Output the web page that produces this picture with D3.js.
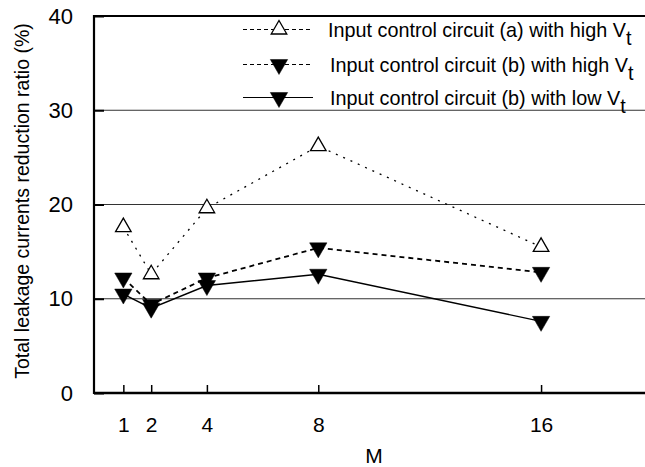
<!DOCTYPE html>
<html>
<head>
<meta charset="utf-8">
<script src="https://cdn.jsdelivr.net/npm/d3@7"></script>
<style>
  html, body { margin: 0; padding: 0; background: #fff; }
  svg { display: block; font-family: "Liberation Sans", Arial, Helvetica, sans-serif; }
</style>
</head>
<body>
<svg id="chart" width="645" height="467"></svg>
<script>
// ---- data ----
const mValues = [1, 2, 4, 8, 16];
const seriesA_high = [17.6, 12.6, 19.6, 26.2, 15.5];   // circuit (a), high Vt
const seriesB_high = [12.2, 9.4, 12.2, 15.4, 12.8];    // circuit (b), high Vt
const seriesB_low  = [10.5, 9.0, 11.4, 12.6, 7.6];     // circuit (b), low Vt
const yTicks = [0, 10, 20, 30, 40];
const xTicks = [1, 2, 4, 8, 16];
const legendLabels = [
  "Input control circuit (a) with high V",
  "Input control circuit (b) with high V",
  "Input control circuit (b) with low V"
];
const xTitle = "M";
const yTitle = "Total leakage currents reduction ratio (%)";

// ---- layout ----
const svg = d3.select("#chart");
const pLeft = 94, pTop = 16, pRight = 645, pBottom = 393;

const x = d3.scaleLinear().domain([0, 19.75]).range([95.5, 645.5]);
const y = d3.scaleLinear().domain([0, 40]).range([pBottom, pTop]);

// gridlines
svg.append("g")
  .selectAll("line")
  .data([10, 20, 30])
  .join("line")
  .attr("x1", pLeft).attr("x2", pRight)
  .attr("y1", d => y(d)).attr("y2", d => y(d))
  .attr("stroke", "#333").attr("stroke-width", 1);

// y axis
const yAxis = svg.append("g")
  .attr("transform", `translate(${pLeft},0)`)
  .call(d3.axisLeft(y).tickValues(yTicks).tickSize(-10).tickPadding(21).tickFormat(d3.format("d")));
yAxis.select(".domain").remove();
yAxis.selectAll(".tick line").attr("stroke", "#000").attr("stroke-width", 2);
yAxis.selectAll(".tick text").attr("font-size", 22).attr("fill", "#000")
  .attr("font-family", "Liberation Sans, Arial, sans-serif");

// x axis
const xAxis = svg.append("g")
  .attr("transform", `translate(0,${pBottom})`)
  .call(d3.axisBottom(x).tickValues(xTicks).tickSize(-8).tickPadding(24).tickFormat(d3.format("d")));
xAxis.select(".domain").remove();
xAxis.selectAll(".tick line").attr("stroke", "#000").attr("stroke-width", 1.5);
xAxis.selectAll(".tick text").attr("font-size", 21).attr("fill", "#000")
  .attr("font-family", "Liberation Sans, Arial, sans-serif");

// frame lines (left, top, bottom)
svg.append("line").attr("x1", pLeft).attr("x2", pLeft).attr("y1", pTop - 1).attr("y2", pBottom + 1)
  .attr("stroke", "#000").attr("stroke-width", 2.2);
svg.append("line").attr("x1", pLeft).attr("x2", pRight).attr("y1", pTop).attr("y2", pTop)
  .attr("stroke", "#000").attr("stroke-width", 2);
svg.append("line").attr("x1", pLeft).attr("x2", pRight).attr("y1", pBottom).attr("y2", pBottom)
  .attr("stroke", "#000").attr("stroke-width", 2.5);

// titles
svg.append("text")
  .attr("x", 374).attr("y", 463)
  .attr("text-anchor", "middle").attr("font-size", 21).text(xTitle);
svg.append("text")
  .attr("transform", "translate(29,201) rotate(-90)")
  .attr("text-anchor", "middle").attr("font-size", 19.5).text(yTitle);

// series
const series = [
  { vals: seriesA_high, dash: "2,6", width: 1.3, open: true },
  { vals: seriesB_high, dash: "5,4", width: 1.8, open: false },
  { vals: seriesB_low,  dash: null,  width: 1.4, open: false }
];

const line = d3.line().x(d => x(d[0])).y(d => y(d[1]));
const upTri = d3.symbol().type(d3.symbolTriangle).size(105);
const downTri = d3.symbol().type(d3.symbolTriangle).size(130);

series.forEach(s => {
  const pts = mValues.map((m, i) => [m, s.vals[i]]);
  svg.append("path").datum(pts)
    .attr("d", line).attr("fill", "none")
    .attr("stroke", "#000").attr("stroke-width", s.width)
    .attr("stroke-dasharray", s.dash);
});
// markers: filled ones first, open on top
[series[2], series[1], series[0]].forEach(s => {
  const pts = mValues.map((m, i) => [m, s.vals[i]]);
  svg.append("g").selectAll("path").data(pts).join("path")
    .attr("d", s.open ? upTri : downTri)
    .attr("transform", d => `translate(${x(d[0])},${y(d[1])})` + (s.open ? "" : " rotate(180)"))
    .attr("fill", s.open ? "#fff" : "#000")
    .attr("stroke", "#000").attr("stroke-width", s.open ? 1.3 : 0.5);
});

// legend
const legendY = [29.5, 64.5, 97.5];
const legendDash = ["4,3", "4,3", null];
const lg = svg.append("g");
legendLabels.forEach((lab, i) => {
  const ly = legendY[i];
  lg.append("line").attr("x1", 243).attr("x2", 313).attr("y1", ly).attr("y2", ly)
    .attr("stroke", "#000").attr("stroke-width", 1.2).attr("stroke-dasharray", legendDash[i]);
  lg.append("path")
    .attr("d", i === 0 ? upTri : downTri)
    .attr("transform", `translate(279,${ly})` + (i === 0 ? "" : " rotate(180)"))
    .attr("fill", i === 0 ? "#fff" : "#000")
    .attr("stroke", "#000").attr("stroke-width", i === 0 ? 1.3 : 0.5);
  const t = lg.append("text").attr("x", 328 + (i > 0 ? 2 : 0)).attr("y", ly + 7.5)
    .attr("font-size", 19.8);
  t.append("tspan").text(lab);
  t.append("tspan").attr("dy", 8).text("t");
});
</script>
</body>
</html>
